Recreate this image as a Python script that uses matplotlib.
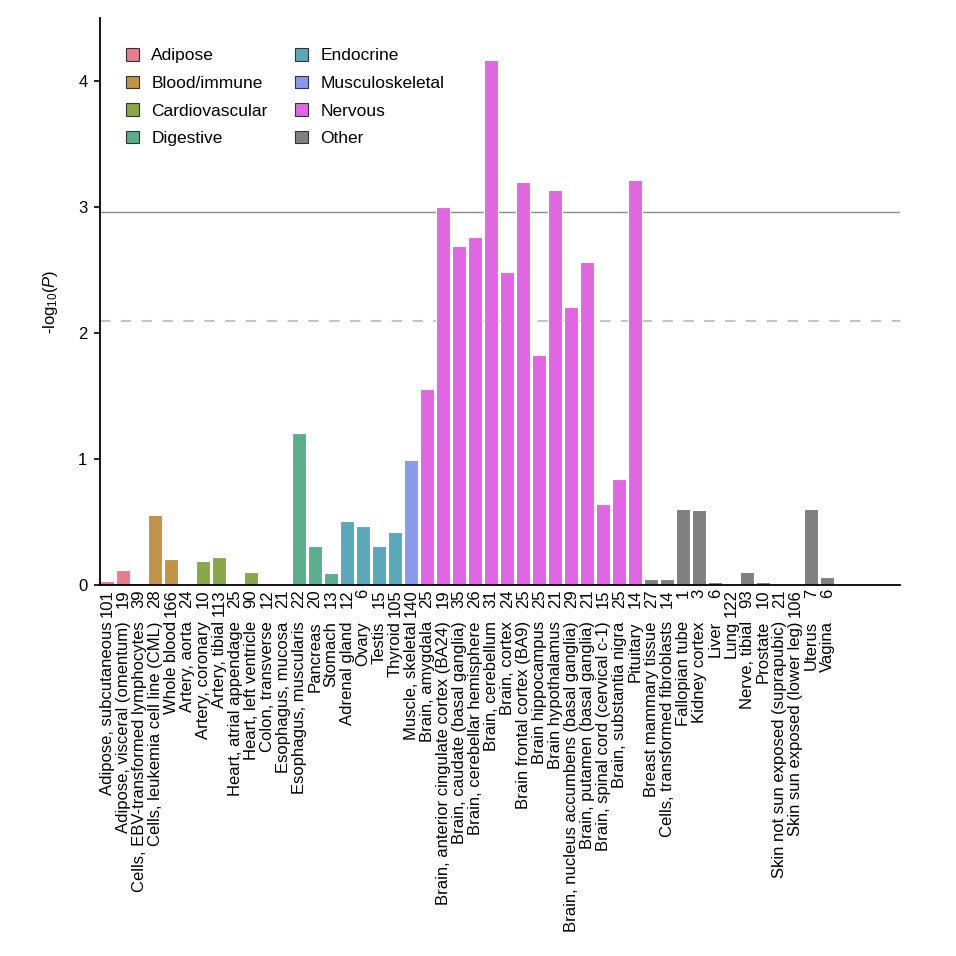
import matplotlib
matplotlib.use("Agg")
import matplotlib.pyplot as plt
from matplotlib.patches import Patch

plt.rcParams['font.family'] = ['Liberation Sans', 'DejaVu Sans']
plt.rcParams['mathtext.fontset'] = 'custom'
plt.rcParams['mathtext.rm'] = 'Liberation Sans'
plt.rcParams['mathtext.it'] = 'Liberation Sans:italic'

tissues = [
    'Adipose, subcutaneous', 'Adipose, visceral (omentum)',
    'Cells, EBV-transformed lymphocytes', 'Cells, leukemia cell line (CML)',
    'Whole blood', 'Artery, aorta', 'Artery, coronary', 'Artery, tibial',
    'Heart, atrial appendage', 'Heart, left ventricle', 'Colon, transverse',
    'Esophagus, mucosa', 'Esophagus, muscularis', 'Pancreas', 'Stomach',
    'Adrenal gland', 'Ovary', 'Testis', 'Thyroid', 'Muscle, skeletal',
    'Brain, amygdala', 'Brain, anterior cingulate cortex (BA24)',
    'Brain, caudate (basal ganglia)', 'Brain, cerebellar hemisphere',
    'Brain, cerebellum', 'Brain, cortex', 'Brain frontal cortex (BA9)',
    'Brain hippocampus', 'Brain hypothalamus',
    'Brain, nucleus accumbens (basal ganglia)', 'Brain, putamen (basal ganglia)',
    'Brain, spinal cord (cervical c-1)', 'Brain, substantia nigra', 'Pituitary',
    'Breast mammary tissue', 'Cells, transformed fibroblasts', 'Fallopian tube',
    'Kidney cortex', 'Liver', 'Lung', 'Nerve, tibial', 'Prostate',
    'Skin not sun exposed (suprapubic)', 'Skin sun exposed (lower leg)',
    'Uterus', 'Vagina',
]
n_genes = [101, 19, 39, 28, 166, 24, 10, 113, 25, 90, 12, 21, 22, 20, 13,
           12, 6, 15, 105, 140, 25, 19, 35, 26, 31, 24, 25, 25, 21, 29, 21,
           15, 25, 14, 27, 14, 1, 3, 6, 122, 93, 10, 21, 106, 7, 6]
neglogp = [0.033, 0.12, 0.018, 0.56, 0.206, 0.01, 0.195, 0.22, 0.01, 0.105,
           0.0, 0.0, 1.21, 0.31, 0.097, 0.51, 0.47, 0.31, 0.42, 0.99,
           1.558, 3.0, 2.693, 2.762, 4.167, 2.484, 3.196, 1.825, 3.135, 2.204,
           2.561, 0.645, 0.84, 3.214, 0.05, 0.05, 0.605, 0.597, 0.026, 0.0,
           0.103, 0.021, 0.0, 0.0, 0.60, 0.063]
systems = (['Adipose'] * 2 + ['Blood/immune'] * 3 + ['Cardiovascular'] * 5 +
           ['Digestive'] * 5 + ['Endocrine'] * 4 + ['Musculoskeletal'] +
           ['Nervous'] * 14 + ['Other'] * 12)
system_names = ['Adipose', 'Blood/immune', 'Cardiovascular', 'Digestive',
                'Endocrine', 'Musculoskeletal', 'Nervous', 'Other']
system_colors = ['#e67d8b', '#c09446', '#8aa84a', '#5aae8b',
                 '#5aa8b9', '#889ae9', '#e067e1', '#808080']
bonferroni = 2.958
fdr = 2.098

sys_color = dict(zip(system_names, system_colors))
colors = [sys_color[s] for s in systems]

fig = plt.figure(figsize=(9.56, 9.56), dpi=100)
ax = fig.add_axes([0.1046, 0.388, 0.837, 0.593])

x = list(range(len(tissues)))
ax.bar(x, neglogp, width=0.9, color=colors, edgecolor='white', linewidth=0.8)
ax.axhline(bonferroni, color='#8c8c8c', lw=1.0, zorder=0)
ax.axhline(fdr, color='#c4c4c4', lw=1.5, ls=(0, (5, 5)), zorder=0)

ax.set_xlim(-0.44, 49.56)
ax.set_ylim(0, 4.5)
ax.set_yticks([0, 1, 2, 3, 4])
ax.set_xticks(x)
ax.set_xticklabels(tissues, rotation=90, fontsize=12)
ax.tick_params(axis='x', length=0, pad=26)
ax.tick_params(axis='y', labelsize=12, length=4, width=1.2, pad=5)
for i, n in enumerate(n_genes):
    ax.annotate(str(n), xy=(i, 0), xycoords=('data', 'axes fraction'),
                xytext=(0, -3), textcoords='offset points', rotation=90,
                ha='center', va='top', fontsize=12)

for side in ['top', 'right']:
    ax.spines[side].set_visible(False)
for side in ['left', 'bottom']:
    ax.spines[side].set_linewidth(1.3)

ax.set_ylabel(r'-log$_{10}$($\mathit{P}$)', fontsize=12, labelpad=13)

handles = [Patch(facecolor=sys_color[s], edgecolor='#333333', linewidth=0.8, label=s)
           for s in system_names]
ax.legend(handles=handles, ncol=2, frameon=False, loc='upper left',
          bbox_to_anchor=(0.013, 0.975), fontsize=12.5, handlelength=0.75,
          handleheight=0.75, handletextpad=0.7, columnspacing=1.6,
          labelspacing=0.7)

fig.savefig('out.png', dpi=100)
